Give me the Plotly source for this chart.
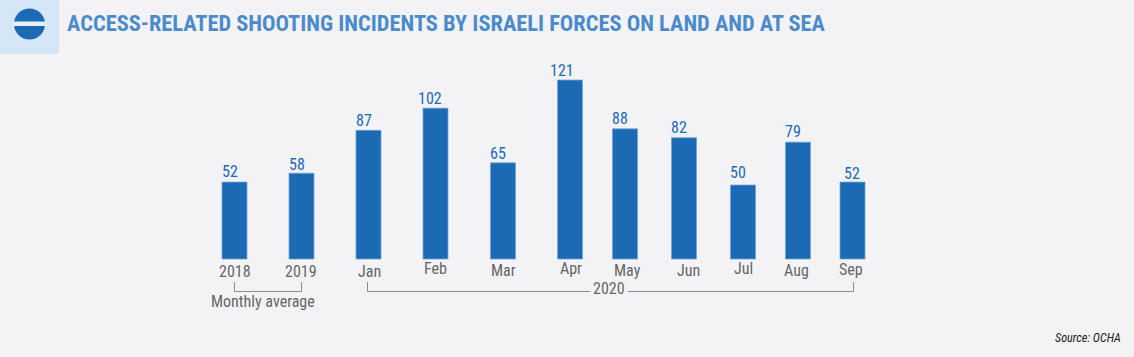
import plotly.graph_objects as go

categories = ["2018", "2019", "Jan", "Feb", "Mar", "Apr", "May", "Jun", "Jul", "Aug", "Sep"]
values = [52, 58, 87, 102, 65, 121, 88, 82, 50, 79, 52]

W, H = 1134, 357
BASE = 259
SCALE = 1.479
# layout: bar centres on a pixel-scaled x axis, label nudges
centres = [234.5, 301.5, 368.5, 435.5, 503, 570, 625, 684, 743, 798, 852.5]
val_dx = [-5, -5, -5, -6, -5, -8, -5, -5, -5, -5, -1]
val_dy = [1, 3, 2, 2, 2, 2, 1, 1, -1, 1, 3]
tick_c = [234.5, 301, 369, 435, 503, 571, 627, 688, 743, 796, 851]
tick_y = [271, 271, 271, 268, 270, 268, 270, 270, 268, 270, 269]

BAR = "#1c6ab4"
BLUE = "#4b8bcb"
GREY = "#666666"
LINE = "#8c8c8c"
BG = "#f3f3f6"
COND = "Roboto Condensed, Liberation Sans Narrow, Roboto, sans-serif"

fig = go.Figure(go.Bar(
    x=centres, y=values, width=25,
    marker=dict(color=BAR, line=dict(color="#6fa3d6", width=0.8)),
    hoverinfo="skip",
))

def px_y(p):
    return 1 - p / H

anns = []
for c, v, dx, dy in zip(centres, values, val_dx, val_dy):
    anns.append(dict(x=c, y=v, xref="x", yref="y", text=str(v), showarrow=False,
                     xshift=dx, yanchor="bottom", yshift=-dy,
                     font=dict(family=COND, size=16, color=BAR)))
for c, t, y in zip(tick_c, categories, tick_y):
    anns.append(dict(x=c, y=px_y(y), xref="x", yref="paper", yanchor="middle", text=t, showarrow=False,
                     font=dict(family=COND, size=16, color=GREY)))
anns += [
    dict(x=263, y=px_y(301), xref="x", yref="paper", yanchor="middle", text="Monthly average", showarrow=False,
         font=dict(family=COND, size=16, color=GREY)),
    dict(x=609, y=px_y(288.5), xref="x", yref="paper", yanchor="middle", text="2020", showarrow=False,
         font=dict(family=COND, size=16, color=GREY)),
    dict(x=65, y=px_y(23), xref="x", yref="paper", yanchor="middle",
         text="<b>ACCESS-RELATED SHOOTING INCIDENTS BY ISRAELI FORCES ON LAND AND AT SEA</b>",
         xanchor="left", showarrow=False, font=dict(family=COND, size=22.4, color=BLUE)),
    dict(x=1123, y=px_y(338), xref="x", yref="paper", yanchor="middle", text="<i>Source: OCHA</i>", xanchor="right",
         showarrow=False, font=dict(family=COND, size=12.2, color="#222222")),
]

def seg(x0, y0, x1, y1):
    return dict(type="line", xref="x", yref="paper", x0=x0, x1=x1, y0=px_y(y0), y1=px_y(y1),
                line=dict(color=LINE, width=1))

shapes = [
    dict(type="rect", xref="x", yref="paper", x0=0, x1=59, y0=px_y(54), y1=1,
         fillcolor="#d5e6f6", line=dict(width=0), layer="below"),
    dict(type="circle", xref="x", yref="paper", x0=14, x1=45, y0=px_y(39.5), y1=px_y(8.5),
         fillcolor=BAR, line=dict(width=0)),
    dict(type="rect", xref="x", yref="paper", x0=13, x1=46, y0=px_y(26), y1=px_y(21.5),
         fillcolor="#e8eef6", line=dict(width=0)),
    seg(234.5, 282, 234.5, 291.5), seg(234.5, 291.5, 301.5, 291.5), seg(301.5, 282, 301.5, 291.5),
    seg(367.5, 282, 367.5, 291.5), seg(367.5, 291.5, 590, 291.5), seg(628, 291.5, 853.5, 291.5), seg(853.5, 282, 853.5, 291.5),
]

fig.update_layout(
    width=W, height=H, margin=dict(l=0, r=0, t=0, b=0),
    paper_bgcolor=BG, plot_bgcolor=BG, showlegend=False,
    xaxis=dict(range=[0, W], visible=False, fixedrange=True),
    yaxis=dict(range=[-(H - BASE) / SCALE, BASE / SCALE], visible=False, fixedrange=True),
    annotations=anns, shapes=shapes,
)
fig.write_html("out.html", config=dict(displayModeBar=False),
               post_script="document.body.style.margin='0';document.body.style.background='#f3f3f6';")
